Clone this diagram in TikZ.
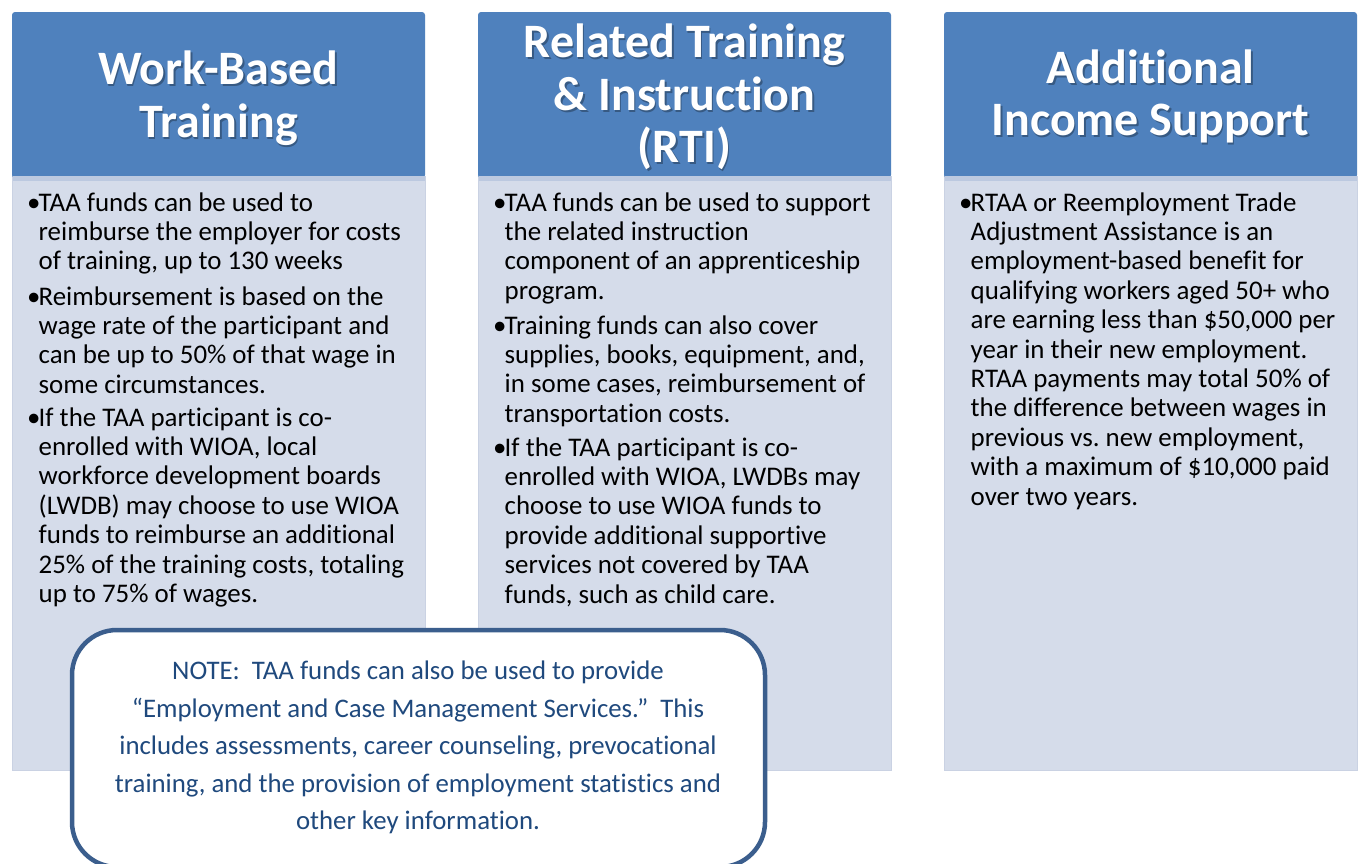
\documentclass[tikz,border=0pt]{standalone}
\usepackage{fontspec}
\setmainfont[Ligatures=NoCommon]{Carlito}
\frenchspacing
\definecolor{hdr}{HTML}{4F81BD}
\definecolor{bodyc}{HTML}{D5DCEA}
\definecolor{bodyd}{HTML}{CAD2E3}
\definecolor{strip}{HTML}{BCC9E0}
\definecolor{notebd}{HTML}{3B5E8D}
\definecolor{notetx}{HTML}{1F497D}
\newcommand\titleline[4]{%
  \node[titleshadow] (#1s) at (#2+1.5,#3+2) {#4};
  \node[titletext] (#1) at (#2,#3) {#4};}
\newcommand\bul{\makebox[11.5pt][l]{•}}
\newcommand\lines[1]{\bul\begin{tabular}[t]{@{}l@{}}#1\end{tabular}}
\tikzset{
  hdrbox/.style={fill=hdr, draw=none, rounded corners=3pt},
  stripbox/.style={fill=strip, draw=none},
  bodybox/.style={fill=bodyc, draw=bodyd, line width=1pt},
  titletext/.style={anchor=base, inner sep=0, text=white, font=\fontsize{48}{52}\selectfont\bfseries},
  titleshadow/.style={anchor=base, inner sep=0, text=black, opacity=0.3, font=\fontsize{48}{52}\selectfont\bfseries},
  item/.style={anchor=base west, inner sep=0, font=\fontsize{26.9}{29.4}\selectfont},
  notebox/.style={draw=notebd, line width=4.5pt, fill=white, rounded corners=45pt},
  noteline/.style={anchor=base, inner sep=0, text=notetx, font=\fontsize{26.8}{37.5}\selectfont}
}
\begin{document}
\begin{tikzpicture}[x=1pt,y=-1pt]
\path[use as bounding box] (0,0) rectangle (1361,863);
\fill[white] (0,0) rectangle (1361,863);
% columns
\foreach \x/\n in {12/a,478/b,944/c}{
  \draw[bodybox] (\x,176) rectangle (\x+413,770);
  \fill[hdrbox] (\x,12) rectangle (\x+413,178);
  \fill[stripbox] (\x+0.5,176) rectangle (\x+412.5,181);
}
% titles
\titleline{t1a}{218.5}{84}{Work-Based}
\titleline{t1b}{218.5}{137}{Training}
\titleline{t2a}{684.5}{57}{Related Training}
\titleline{t2b}{684.5}{110}{\& Instruction}
\titleline{t2c}{684.5}{162}{(RTI)}
\titleline{t3a}{1150.5}{83}{Additional}
\titleline{t3b}{1150.5}{135}{Income Support}
% column 1
\node[item] (c1a) at (27,211) {\lines{TAA funds can be used to\\reimburse the employer for costs\\of training, up to 130 weeks}};
\node[item] (c1b) at (27,305) {\lines{Reimbursement is based on the\\wage rate of the participant and\\can be up to 50\% of that wage in\\some circumstances.}};
\node[item] (c1c) at (27,426) {\lines{If the TAA participant is co-\\enrolled with WIOA, local\\workforce development boards\\(LWDB) may choose to use WIOA\\funds to reimburse an additional\\25\% of the training costs, totaling\\up to 75\% of wages.}};
% column 2
\node[item] (c2a) at (493,211) {\lines{TAA funds can be used to support\\the related instruction\\component of an apprenticeship\\program.}};
\node[item] (c2b) at (493,334) {\lines{Training funds can also cover\\supplies, books, equipment, and,\\in some cases, reimbursement of\\transportation costs.}};
\node[item] (c2c) at (493,456) {\lines{If the TAA participant is co-\\enrolled with WIOA, LWDBs may\\choose to use WIOA funds to\\provide additional supportive\\services not covered by TAA\\funds, such as child care.}};
% column 3
\node[item] (c3a) at (959,211) {\lines{RTAA or Reemployment Trade\\Adjustment Assistance is an\\employment-based benefit for\\qualifying workers aged 50+ who\\are earning less than \$50,000 per\\year in their new employment.\\RTAA payments may total 50\% of\\the difference between wages in\\previous vs. new employment,\\with a maximum of \$10,000 paid\\over two years.}};
% note
\begin{scope}
\clip (0,0) rectangle (1361,863);
\draw[notebox] (72,630) rectangle (765,867);
\end{scope}
\node[noteline] (n1) at (418,679) {NOTE:\ \ TAA funds can also be used to provide};
\node[noteline] (n2) at (418,717) {“Employment and Case Management Services.”\ \ This};
\node[noteline] (n3) at (418,754) {includes assessments, career counseling, prevocational};
\node[noteline] (n4) at (418,792) {training, and the provision of employment statistics and};
\node[noteline] (n5) at (418,829) {other key information.};
\end{tikzpicture}
\end{document}
